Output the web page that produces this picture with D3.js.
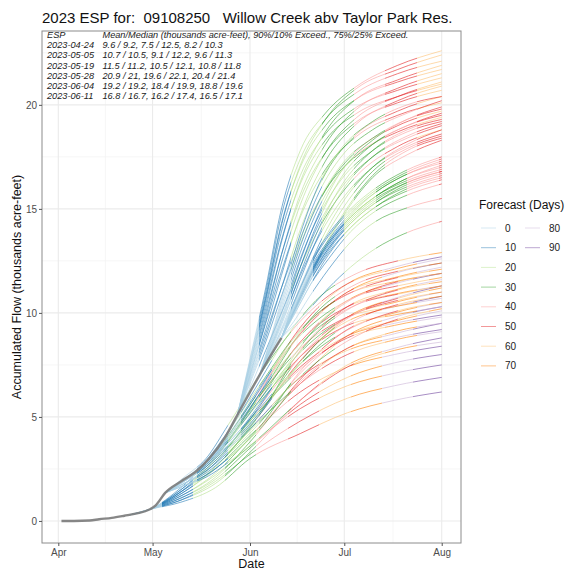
<!DOCTYPE html>
<html><head><meta charset="utf-8">
<script src="https://cdn.jsdelivr.net/npm/d3@7/dist/d3.min.js"></script>
<style>body{margin:0;background:#fff}svg{font-family:"Liberation Sans",Arial,Helvetica,sans-serif}</style>
</head><body><svg id="c" width="567" height="573"></svg>
<script>
// ---------- text ----------
const titleText = "2023 ESP for:  09108250   Willow Creek abv Taylor Park Res.";
const yTitle = "Accumulated Flow (thousands acre-feet)";
const xTitle = "Date";
const legendTitle = "Forecast (Days)";
const yTicks = [0, 5, 10, 15, 20];
const yMinor = [2.5, 7.5, 12.5, 17.5, 22.5];
const xTickDates = ["2023-04-01", "2023-05-01", "2023-06-01", "2023-07-01", "2023-08-01"];
const xMinorDates = ["2023-04-16", "2023-05-16T12:00", "2023-06-16", "2023-07-16T12:00"];
const legendDays = [0, 10, 20, 30, 40, 50, 60, 70, 80, 90];
const legendColors = ["#a6cee3", "#1f78b4", "#b2df8a", "#33a02c", "#fb9a99", "#e31a1c", "#fdbf6f", "#ff7f00", "#cab2d6", "#6a3d9a"];
const espHeader = ["ESP", "Mean/Median (thousands acre-feet), 90%/10% Exceed., 75%/25% Exceed."];
const espDates = ["2023-04-24", "2023-05-05", "2023-05-19", "2023-05-28", "2023-06-04", "2023-06-11"];
const espStats = [
  "9.6 / 9.2,   7.5 / 12.5,   8.2 / 10.3",
  "10.7 / 10.5,   9.1 / 12.2,   9.6 / 11.3",
  "11.5 / 11.2,   10.5 / 12.1,   10.8 / 11.8",
  "20.9 / 21,   19.6 / 22.1,   20.4 / 21.4",
  "19.2 / 19.2,   18.4 / 19.9,   18.8 / 19.6",
  "16.8 / 16.7,   16.2 / 17.4,   16.5 / 17.1"
];

// ---------- data (days after 2023-04-01, thousands acre-feet) ----------
const obsDays = [1, 5, 10, 13, 17, 21, 25, 29, 31, 34, 39, 44, 48, 53, 57, 61, 64, 67, 71];
const obsVals = [0, 0, 0.02, 0.08, 0.15, 0.25, 0.36, 0.55, 0.75, 1.35, 1.9, 2.4, 3.0, 4.0, 5.1, 6.2, 7.0, 7.8, 8.8];

// day on which each ESP group's forecast-day colouring starts
const colourStartDays = [23, 34, 48, 54, 64, 71];

const daysA = [23, 29, 39, 50, 61, 77, 92, 107, 122];
const tracesA = [
  [0.3, 0.55, 0.9, 1.6, 3.0, 4.2, 5.2, 5.8, 6.2],
  [0.3, 0.55, 1.0, 1.9, 3.2, 4.8, 5.9, 6.5, 6.9],
  [0.3, 0.55, 1.2, 2.2, 3.6, 5.4, 6.5, 7.1, 7.5],
  [0.3, 0.55, 1.1, 2.0, 3.5, 5.6, 6.9, 7.6, 8.0],
  [0.3, 0.55, 1.3, 2.5, 4.1, 6.2, 7.4, 8.0, 8.4],
  [0.3, 0.55, 1.0, 1.8, 3.3, 5.8, 7.5, 8.3, 8.8],
  [0.3, 0.55, 1.4, 2.6, 4.4, 6.9, 8.2, 8.8, 9.2],
  [0.3, 0.55, 1.2, 2.3, 4.0, 6.6, 8.3, 9.0, 9.5],
  [0.3, 0.55, 1.5, 2.9, 4.8, 7.4, 8.9, 9.5, 9.9],
  [0.3, 0.55, 1.1, 2.1, 3.8, 6.8, 8.9, 9.8, 10.3],
  [0.3, 0.55, 1.4, 2.8, 4.9, 7.9, 9.6, 10.3, 10.8],
  [0.3, 0.55, 1.3, 2.6, 4.5, 7.7, 9.8, 10.7, 11.3],
  [0.3, 0.55, 1.5, 3.1, 5.3, 8.6, 10.6, 11.4, 11.9],
  [0.3, 0.55, 1.6, 3.3, 5.6, 9.0, 11.0, 11.9, 12.4],
  [0.3, 0.55, 1.4, 3.0, 5.4, 9.3, 11.4, 12.2, 12.7]
];
const daysB = [34, 40, 47, 54, 64, 77, 92, 107, 122];
const tracesB = [
  [1.35, 1.7, 2.1, 2.8, 4.0, 5.8, 7.4, 8.2, 8.6],
  [1.35, 1.8, 2.4, 3.3, 4.8, 6.6, 8.0, 8.7, 9.1],
  [1.35, 1.7, 2.2, 3.0, 4.4, 6.7, 8.3, 9.1, 9.5],
  [1.35, 1.9, 2.6, 3.6, 5.3, 7.3, 8.8, 9.4, 9.8],
  [1.35, 1.8, 2.3, 3.2, 4.7, 7.1, 8.9, 9.6, 10.1],
  [1.35, 1.9, 2.7, 3.9, 5.7, 7.9, 9.4, 9.9, 10.3],
  [1.35, 1.7, 2.2, 3.0, 4.5, 7.2, 9.2, 10.0, 10.5],
  [1.35, 2.0, 2.8, 4.0, 6.0, 8.3, 9.8, 10.3, 10.7],
  [1.35, 1.8, 2.5, 3.5, 5.2, 7.9, 9.8, 10.5, 11.0],
  [1.35, 1.9, 2.6, 3.8, 5.8, 8.6, 10.3, 10.9, 11.3],
  [1.35, 1.8, 2.4, 3.4, 5.1, 8.2, 10.3, 11.1, 11.6],
  [1.35, 2.0, 2.9, 4.3, 6.5, 9.2, 10.9, 11.5, 11.9],
  [1.35, 1.9, 2.7, 3.9, 6.0, 9.0, 11.0, 11.7, 12.2],
  [1.35, 2.1, 3.0, 4.6, 7.0, 9.6, 11.4, 12.1, 12.6]
];
const daysC = [48, 53, 58, 64, 72, 82, 95, 108, 122];
const tracesC = [
  [3.0, 3.4, 4.0, 4.9, 6.2, 7.6, 8.9, 9.7, 10.2],
  [3.0, 3.6, 4.4, 5.4, 6.8, 8.2, 9.4, 10.1, 10.5],
  [3.0, 3.5, 4.2, 5.2, 6.7, 8.3, 9.7, 10.4, 10.8],
  [3.0, 3.7, 4.6, 5.8, 7.3, 8.8, 10.0, 10.6, 11.0],
  [3.0, 3.4, 4.1, 5.1, 6.7, 8.5, 10.0, 10.7, 11.2],
  [3.0, 3.8, 4.8, 6.1, 7.7, 9.2, 10.4, 10.9, 11.3],
  [3.0, 3.6, 4.4, 5.6, 7.2, 9.0, 10.4, 11.1, 11.5],
  [3.0, 3.9, 5.0, 6.4, 8.1, 9.6, 10.8, 11.3, 11.7],
  [3.0, 3.5, 4.3, 5.5, 7.3, 9.3, 10.8, 11.5, 11.9],
  [3.0, 3.8, 4.9, 6.3, 8.2, 9.9, 11.1, 11.7, 12.1],
  [3.0, 3.7, 4.7, 6.1, 8.0, 10.0, 11.4, 12.0, 12.4],
  [3.0, 4.0, 5.2, 6.7, 8.7, 10.6, 11.9, 12.5, 12.9]
];
const daysD = [57, 61, 66, 71, 77, 85, 95, 108, 122];
const tracesD = [
  [5.1, 6.4, 8.2, 10.0, 12.2, 14.6, 16.6, 18.0, 18.8],
  [5.1, 6.8, 9.0, 11.2, 13.6, 15.9, 17.6, 18.7, 19.4],
  [5.1, 6.6, 8.6, 10.8, 13.3, 15.9, 17.8, 19.0, 19.7],
  [5.1, 7.0, 9.5, 12.0, 14.6, 16.9, 18.5, 19.5, 20.1],
  [5.1, 6.7, 8.8, 11.2, 14.0, 16.7, 18.6, 19.7, 20.4],
  [5.1, 7.2, 10.0, 12.8, 15.5, 17.7, 19.2, 20.1, 20.7],
  [5.1, 6.9, 9.2, 11.8, 14.7, 17.3, 19.1, 20.2, 20.9],
  [5.1, 7.4, 10.4, 13.5, 16.2, 18.3, 19.6, 20.4, 21.0],
  [5.1, 7.0, 9.6, 12.4, 15.2, 17.7, 19.4, 20.4, 21.1],
  [5.1, 7.5, 10.6, 13.9, 16.6, 18.6, 19.9, 20.7, 21.3],
  [5.1, 7.1, 9.8, 12.8, 15.7, 18.1, 19.8, 20.8, 21.5],
  [5.1, 7.6, 10.8, 14.3, 17.0, 19.0, 20.3, 21.1, 21.7],
  [5.1, 7.3, 10.2, 13.4, 16.3, 18.7, 20.3, 21.2, 21.9],
  [5.1, 7.7, 11.0, 14.7, 17.4, 19.3, 20.6, 21.5, 22.1],
  [5.1, 7.5, 10.7, 14.2, 17.1, 19.3, 20.8, 21.7, 22.4],
  [5.1, 7.8, 11.2, 15.0, 17.8, 19.6, 20.9, 21.9, 22.6]
];
const daysE = [64, 68, 72, 77, 83, 90, 100, 111, 122];
const tracesE = [
  [7.0, 8.0, 9.1, 10.7, 12.6, 14.5, 16.5, 17.6, 18.3],
  [7.0, 8.2, 9.5, 11.2, 13.1, 14.9, 16.8, 17.9, 18.5],
  [7.0, 8.0, 9.1, 10.8, 12.7, 14.6, 16.6, 17.8, 18.4],
  [7.0, 8.4, 9.9, 11.8, 13.7, 15.4, 17.0, 18.0, 18.6],
  [7.0, 8.1, 9.4, 11.2, 13.3, 15.2, 17.0, 18.1, 18.8],
  [7.0, 8.5, 10.1, 12.2, 14.3, 16.0, 17.5, 18.4, 19.0],
  [7.0, 8.2, 9.6, 11.6, 13.8, 15.8, 17.5, 18.5, 19.1],
  [7.0, 8.6, 10.4, 12.6, 14.7, 16.4, 17.8, 18.7, 19.2],
  [7.0, 8.3, 9.8, 11.9, 14.1, 16.1, 17.8, 18.8, 19.3],
  [7.0, 8.7, 10.6, 12.9, 15.1, 16.8, 18.1, 19.0, 19.5],
  [7.0, 8.4, 10.0, 12.2, 14.5, 16.5, 18.1, 19.0, 19.6],
  [7.0, 8.8, 10.8, 13.2, 15.4, 17.1, 18.4, 19.3, 19.8],
  [7.0, 8.5, 10.2, 12.5, 14.8, 16.8, 18.3, 19.3, 19.9],
  [7.0, 8.9, 11.0, 13.5, 15.8, 17.5, 18.8, 19.6, 20.2],
  [7.0, 9.0, 11.2, 13.8, 16.2, 17.9, 19.2, 20.0, 20.4]
];
const daysF = [71, 75, 80, 86, 93, 101, 110, 122];
const tracesF = [
  [8.8, 9.4, 10.2, 11.2, 12.2, 13.1, 13.8, 14.4],
  [8.8, 9.6, 10.8, 12.1, 13.4, 14.4, 15.0, 15.5],
  [8.8, 9.9, 11.3, 12.6, 13.9, 14.9, 15.6, 16.2],
  [8.8, 10.0, 11.5, 12.9, 14.1, 15.1, 15.8, 16.4],
  [8.8, 9.9, 11.3, 12.8, 14.1, 15.1, 15.9, 16.5],
  [8.8, 10.1, 11.7, 13.1, 14.3, 15.3, 16.0, 16.6],
  [8.8, 10.0, 11.5, 13.0, 14.3, 15.3, 16.1, 16.7],
  [8.8, 10.2, 11.8, 13.2, 14.5, 15.5, 16.2, 16.8],
  [8.8, 10.0, 11.6, 13.1, 14.4, 15.4, 16.2, 16.8],
  [8.8, 10.2, 11.9, 13.3, 14.6, 15.6, 16.3, 16.9],
  [8.8, 10.3, 12.0, 13.4, 14.6, 15.6, 16.4, 17.0],
  [8.8, 10.1, 11.8, 13.3, 14.6, 15.6, 16.4, 17.1],
  [8.8, 10.4, 12.1, 13.5, 14.8, 15.8, 16.6, 17.2],
  [8.8, 10.2, 11.9, 13.4, 14.7, 15.8, 16.6, 17.3],
  [8.8, 10.4, 12.2, 13.7, 14.9, 15.9, 16.7, 17.4],
  [8.8, 10.5, 12.3, 13.8, 15.0, 16.0, 16.8, 17.5]
];

// ---------- chart ----------
const svg = d3.select("#c");
const P = {l: 42, r: 461, t: 31, b: 543};
const t0 = Date.UTC(2023, 3, 1);
const DAY = 86400000;
const dayToDate = d => new Date(t0 + d * DAY);
const x = d3.scaleUtc().domain([dayToDate(-5.19), dayToDate(128.14)]).range([P.l, P.r]);
const y = d3.scaleLinear().domain([-1.06, 23.55]).range([P.b, P.t]);
const parse = s => new Date(s + (s.length > 10 ? "Z" : "T00:00Z"));

svg.append("rect").attr("width", 567).attr("height", 573).attr("fill", "#fff");

const grid = svg.append("g");
yMinor.forEach(v => grid.append("line").attr("x1", P.l).attr("x2", P.r).attr("y1", y(v)).attr("y2", y(v)).attr("stroke", "#f2f2f2").attr("stroke-width", 0.7));
xMinorDates.forEach(s => grid.append("line").attr("x1", x(parse(s))).attr("x2", x(parse(s))).attr("y1", P.t).attr("y2", P.b).attr("stroke", "#f2f2f2").attr("stroke-width", 0.7));
yTicks.forEach(v => grid.append("line").attr("x1", P.l).attr("x2", P.r).attr("y1", y(v)).attr("y2", y(v)).attr("stroke", "#ebebeb").attr("stroke-width", 1.1));
xTickDates.forEach(s => grid.append("line").attr("x1", x(parse(s))).attr("x2", x(parse(s))).attr("y1", P.t).attr("y2", P.b).attr("stroke", "#ebebeb").attr("stroke-width", 1.1));

// gradients: colour by days since forecast start
const defs = svg.append("defs");
const groups = [
  {days: daysA, traces: tracesA},
  {days: daysB, traces: tracesB},
  {days: daysC, traces: tracesC},
  {days: daysD, traces: tracesD},
  {days: daysE, traces: tracesE},
  {days: daysF, traces: tracesF}
];
const line = d3.line().x(d => x(dayToDate(d[0]))).y(d => y(d[1])).curve(d3.curveMonotoneX);
defs.append("clipPath").attr("id", "pclip").append("rect")
  .attr("x", P.l).attr("y", P.t).attr("width", P.r - P.l).attr("height", P.b - P.t);
const lines = svg.append("g").attr("clip-path", "url(#pclip)");
groups.forEach((g, gi) => {
  const start = colourStartDays[gi];
  const grad = defs.append("linearGradient").attr("id", "grad" + gi).attr("gradientUnits", "userSpaceOnUse")
    .attr("x1", x(dayToDate(start))).attr("x2", x(dayToDate(start + 100))).attr("y1", 0).attr("y2", 0);
  legendColors.forEach((c, k) => {
    grad.append("stop").attr("offset", k / 10).attr("stop-color", c);
    grad.append("stop").attr("offset", (k + 1) / 10).attr("stop-color", c);
  });
  g.traces.forEach(tr => {
    lines.append("path").attr("d", line(tr.map((v, i) => [g.days[i], v])))
      .attr("fill", "none").attr("stroke", "url(#grad" + gi + ")")
      .attr("stroke-width", 0.9).attr("stroke-opacity", 0.65);
  });
});
// observed
lines.append("path").attr("d", line(obsDays.map((d, i) => [d, obsVals[i]])))
  .attr("fill", "none").attr("stroke", "#7a7a7a").attr("stroke-width", 2.4).attr("stroke-opacity", 0.9);

// annotation table
const ann = svg.append("g").attr("font-size", 9.2).attr("font-style", "italic").attr("fill", "#222").style("white-space", "pre");
ann.append("text").attr("x", 47).attr("y", 38).text(espHeader[0]);
ann.append("text").attr("x", 102.5).attr("y", 38).text(espHeader[1]);
espDates.forEach((d, i) => {
  ann.append("text").attr("x", 47).attr("y", 48 + i * 10.25).text(d);
  ann.append("text").attr("x", 102.5).attr("y", 48 + i * 10.25).text(espStats[i]);
});

// panel border
svg.append("rect").attr("x", P.l).attr("y", P.t).attr("width", P.r - P.l).attr("height", P.b - P.t)
  .attr("fill", "none").attr("stroke", "#8c8c8c").attr("stroke-width", 1);

// axes
const yAxis = d3.axisLeft(y).tickValues(yTicks).tickSize(3).tickPadding(2);
const ga = svg.append("g").attr("transform", `translate(${P.l},0)`).call(yAxis);
const xAxis = d3.axisBottom(x).tickValues(xTickDates.map(parse)).tickFormat(d3.utcFormat("%b")).tickSize(3).tickPadding(3);
const gx = svg.append("g").attr("transform", `translate(0,${P.b})`).call(xAxis);
[ga, gx].forEach(g => {
  g.select(".domain").remove();
  g.selectAll(".tick line").attr("stroke", "#555");
  g.selectAll(".tick text").attr("fill", "#4d4d4d").attr("font-size", 10).attr("font-family", "Liberation Sans, Arial, sans-serif");
});

// titles
svg.append("text").attr("x", 42).attr("y", 23).attr("font-size", 15).attr("fill", "#111").style("white-space", "pre").text(titleText);
svg.append("text").attr("x", (P.l + P.r) / 2).attr("y", 568).attr("text-anchor", "middle").attr("font-size", 12.5).attr("fill", "#111").text(xTitle);
svg.append("text").attr("transform", `translate(21,${(P.t + P.b) / 2}) rotate(-90)`).attr("text-anchor", "middle").attr("font-size", 12.5).attr("fill", "#111").text(yTitle);

// legend
const lg = svg.append("g");
lg.append("text").attr("x", 479).attr("y", 209).attr("font-size", 12).attr("fill", "#111").text(legendTitle);
legendDays.forEach((d, i) => {
  const col = i < 8 ? 0 : 1, row = i < 8 ? i : i - 8;
  const cy = 228 + row * 19.7;
  const x0 = col === 0 ? 481 : 525;
  lg.append("line").attr("x1", x0).attr("x2", x0 + 15).attr("y1", cy).attr("y2", cy)
    .attr("stroke", legendColors[i]).attr("stroke-width", 1).attr("stroke-opacity", 0.45);
  lg.append("text").attr("x", x0 + 24).attr("y", cy).attr("dy", "0.35em").attr("font-size", 10).attr("fill", "#222").text(d);
});
</script></body></html>
